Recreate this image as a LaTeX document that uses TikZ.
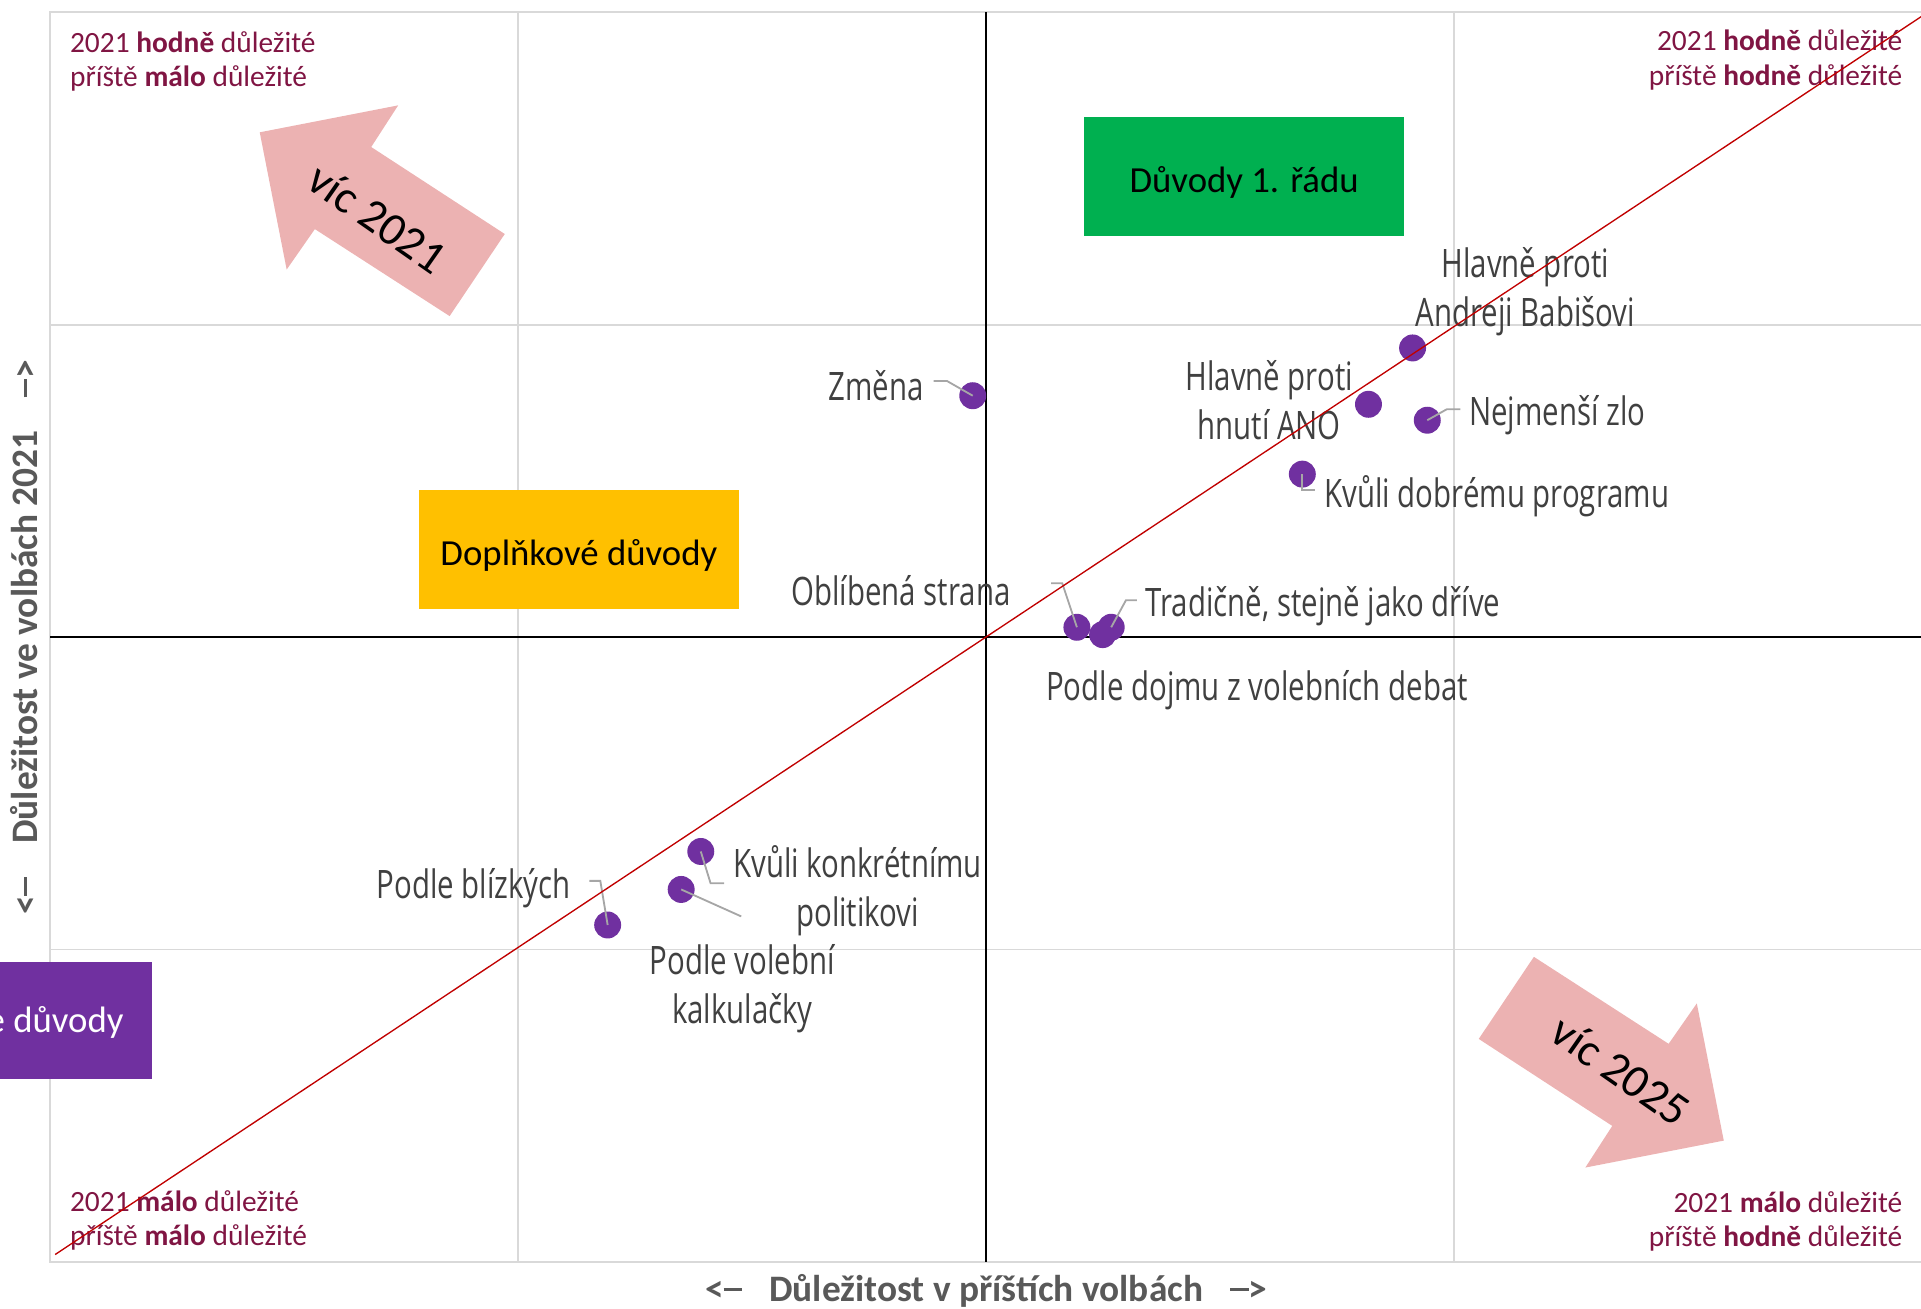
\documentclass[tikz,border=0pt]{standalone}
\usepackage{fontspec}
\setmainfont{Carlito}
\newfontfamily\lblfont[FakeStretch=0.75]{Open Sans}
\newcommand\axdash{\rule[0.29em]{0.5em}{0.085em}}
\definecolor{gridgray}{RGB}{217,217,217}
\definecolor{lblgray}{RGB}{64,64,64}
\definecolor{axisgray}{RGB}{89,89,89}
\definecolor{leadgray}{RGB}{166,166,166}
\definecolor{cornerred}{RGB}{128,21,67}
\definecolor{dotpurple}{RGB}{112,48,160}
\definecolor{boxgreen}{RGB}{0,176,80}
\definecolor{boxyellow}{RGB}{255,192,0}
\definecolor{arrowpink}{RGB}{236,178,178}
\definecolor{diagred}{RGB}{192,0,0}
\begin{document}
\begin{tikzpicture}[x=1pt,y=-1pt,
  gridline/.style={draw=gridgray,line width=1.5pt},
  axisline/.style={draw=black,line width=2pt},
  redline/.style={draw=diagred,line width=1.1pt},
  leader/.style={draw=leadgray,line width=1.5pt},
  dotmark/.style={circle,fill=dotpurple,minimum size=22pt,inner sep=0pt},
  lbl/.style={font=\lblfont\fontsize{32}{40}\selectfont,text=lblgray,inner sep=0pt,align=center},
  corner/.style={font=\fontsize{24}{28}\selectfont,text=cornerred,inner sep=0pt},
  catbox/.style={minimum width=261pt,minimum height=97pt,inner sep=0pt,text height=32pt,text depth=6.5pt,font=\fontsize{30}{36}\selectfont},
  axislabel/.style={font=\bfseries\fontsize{30.5}{36}\selectfont,text=axisgray,inner sep=0pt},
  arrowtext/.style={font=\fontsize{38}{44}\selectfont,text=black,inner sep=0pt},
  pinkarrow/.style={fill=arrowpink,draw=none}]
\useasboundingbox (0,0) rectangle (1568,1068);
% grid
\draw[gridline] (41,10) rectangle (1569,1030);
\foreach \gx in {423,1187} \draw[gridline] (\gx,10) -- (\gx,1030);
\foreach \gy in {265,775} \draw[gridline] (41,\gy) -- (1569,\gy);
% axes
\draw[axisline] (805,10) -- (805,1030);
\draw[axisline] (41,520) -- (1569,520);
% category boxes
\node[catbox,fill=boxgreen] (first) at (1015.5,144) {Důvody 1. řádu};
\node[catbox,fill=boxyellow] (compl) at (472.5,448.5) {Doplňkové důvody};
\fill[dotpurple] (-10,785) rectangle (124,881);
\node[catbox,minimum width=0pt,minimum height=0pt,text=white,anchor=east] (marg) at (101,830) {e důvody};
% pink arrows
\fill[pinkarrow] (212,108) -- (325,86) -- (303,120) -- (412,191) -- (367,258) -- (257,187) -- (234,220) -- cycle;
\fill[pinkarrow] (1407,931) -- (1294,953) -- (1316,919) -- (1207,848) -- (1252,781) -- (1362,852) -- (1385,819) -- cycle;
\node[arrowtext,rotate=-35] (t21) at (308,178) {víc 2021};
\node[arrowtext,rotate=-35] (t25) at (1323,874) {víc 2025};
% corner labels
\node[corner,anchor=west,align=left] (tl) at (57,50) {2021 \textbf{hodně} důležité\\příště \textbf{málo} důležité};
\node[corner,anchor=east,align=right] (tr) at (1553,49) {2021 \textbf{hodně} důležité\\příště \textbf{hodně} důležité};
\node[corner,anchor=west,align=left] (bl) at (57,996) {2021 \textbf{málo} důležité\\příště \textbf{málo} důležité};
\node[corner,anchor=east,align=right] (br) at (1553,997) {2021 \textbf{málo} důležité\\příště \textbf{hodně} důležité};
% axis labels
\node[axislabel] (xlab) at (805,1054) {<\axdash\hspace{22pt}Důležitost v příštích volbách\hspace{22pt}\axdash>};
\node[axislabel,rotate=90] (ylab) at (20,520) {<\axdash\hspace{27pt}Důležitost ve volbách 2021\hspace{27pt}\axdash>};
% data points
\node[dotmark] (dZmena) at (794,323) {};
\node[dotmark] (dBabis) at (1153,284) {};
\node[dotmark] (dANO) at (1117,330) {};
\node[dotmark] (dZlo) at (1165,343) {};
\node[dotmark] (dProg) at (1063,387) {};
\node[dotmark] (dObl) at (879,512) {};
\node[dotmark] (dTrad) at (907,512) {};
\node[dotmark] (dDojem) at (900,518) {};
\node[dotmark] (dKonk) at (572,695) {};
\node[dotmark] (dKalk) at (556,726) {};
\node[dotmark] (dBliz) at (496,755) {};
% data labels
\node[lbl] (lZmena) at (715,315) {Změna};
\node[lbl] (lBabis) at (1245,238) {Hlavně proti\\Andreji Babišovi};
\node[lbl] (lANO) at (1036,327) {Hlavně proti\\hnutí ANO};
\node[lbl,anchor=west] (lZlo) at (1199,339) {Nejmenší zlo};
\node[lbl,anchor=west] (lProg) at (1081,405) {Kvůli dobrému programu};
\node[lbl,anchor=east] (lObl) at (825,482) {Oblíbená strana};
\node[lbl,anchor=west] (lTrad) at (935,495) {Tradičně, stejně jako dříve};
\node[lbl] (lDojem) at (1026,563) {Podle dojmu z volebních debat};
\node[lbl] (lKonk) at (700,727) {Kvůli konkrétnímu\\politikovi};
\node[lbl] (lKalk) at (606,807) {Podle volební\\kalkulačky};
\node[lbl,anchor=east] (lBliz) at (466,725) {Podle blízkých};
% leader lines
\coordinate (sZmena) at (762,311); \coordinate (kZmena) at (773,311);
\draw[leader] (sZmena) -- (kZmena) -- (dZmena.center);
\coordinate (sZlo) at (1192,334); \coordinate (kZlo) at (1181,334);
\draw[leader] (sZlo) -- (kZlo) -- (dZlo.center);
\coordinate (kProg) at (1063,400); \coordinate (sProg) at (1073,400);
\draw[leader] (dProg.center) -- (kProg) -- (sProg);
\coordinate (sObl) at (858,476); \coordinate (kObl) at (867,476);
\draw[leader] (sObl) -- (kObl) -- (dObl.center);
\coordinate (sTrad) at (928,490); \coordinate (kTrad) at (919,490);
\draw[leader] (sTrad) -- (kTrad) -- (dTrad.center);
\coordinate (kKonk) at (580,721); \coordinate (sKonk) at (591,721);
\draw[leader] (dKonk.center) -- (kKonk) -- (sKonk);
\coordinate (sKalk) at (605,748);
\draw[leader] (dKalk.center) -- (sKalk);
\coordinate (sBliz) at (481,719); \coordinate (kBliz) at (490,719);
\draw[leader] (sBliz) -- (kBliz) -- (dBliz.center);
% diagonal
\coordinate (rl0) at (45,1024); \coordinate (rl1) at (1569,13);
\draw[redline] (rl0) -- (rl1);
\end{tikzpicture}
\end{document}
